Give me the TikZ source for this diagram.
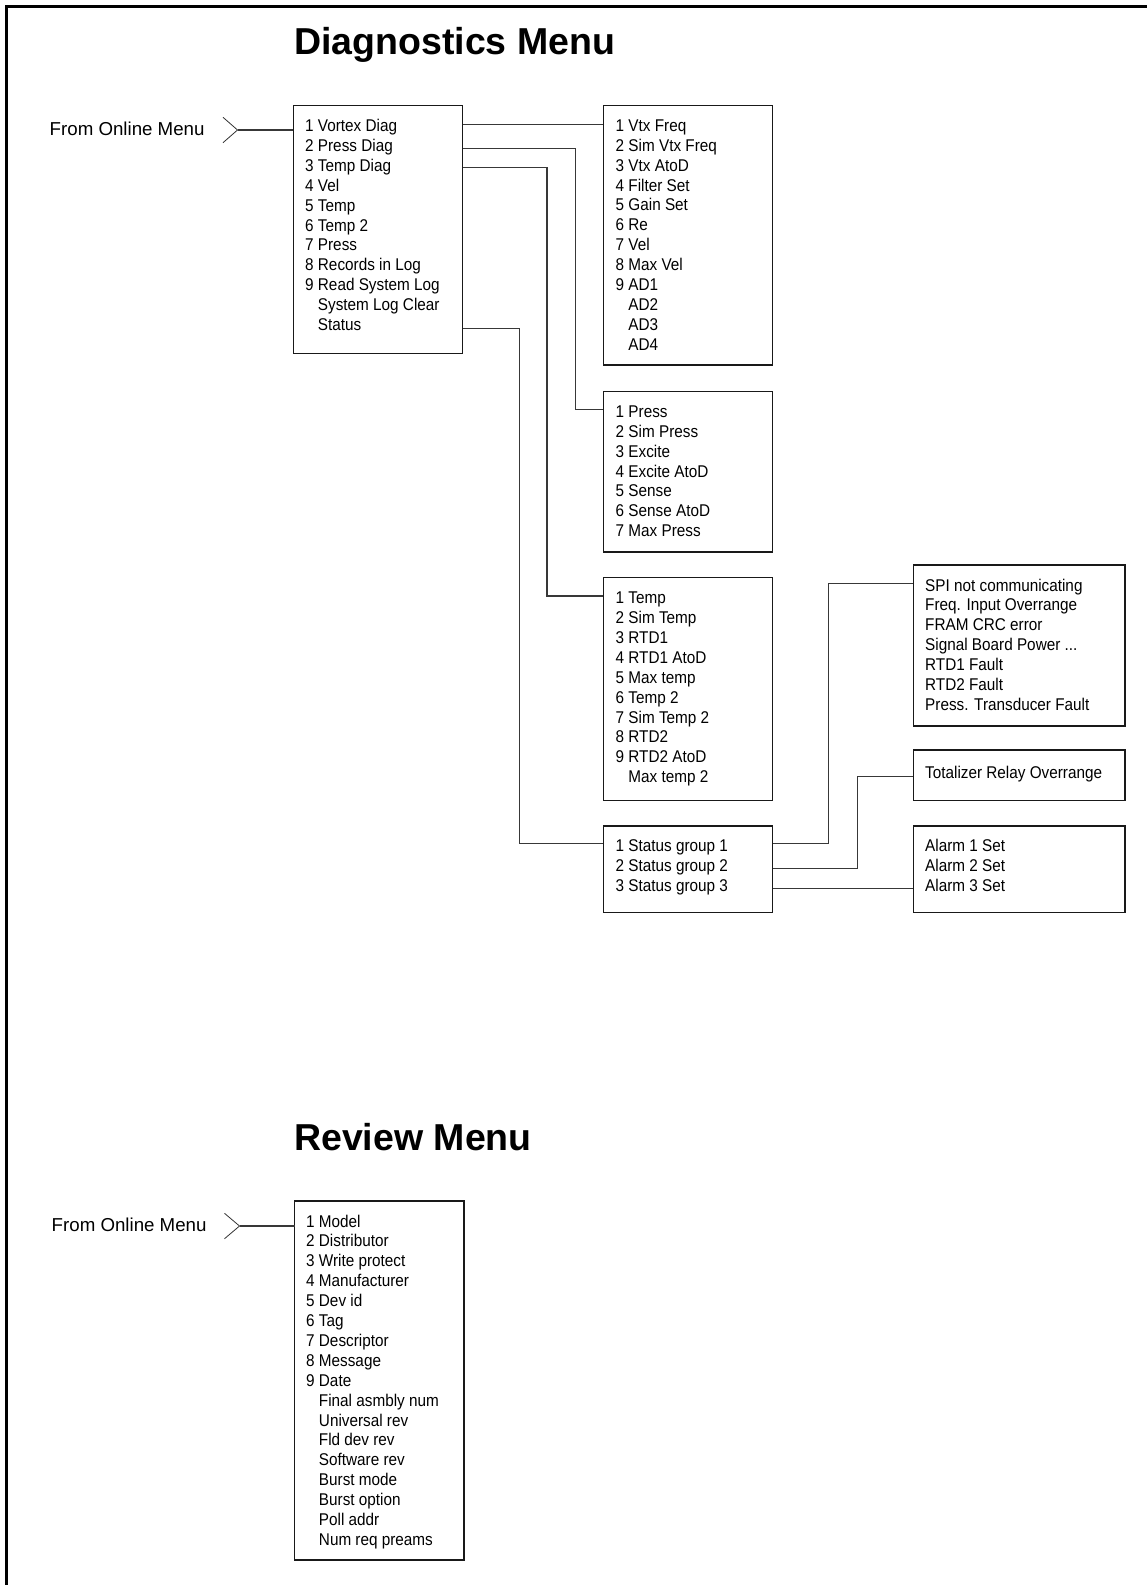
\documentclass[tikz,border=0pt]{standalone}
\usepackage{fontspec}
\setmainfont{Liberation Sans}
\newfontfamily\itemfont[FakeStretch=0.9]{Liberation Sans}
\newcommand\ind{\phantom{9\ }}
\newcommand\tdots{...}
\newcommand\menuitems[5]{%
  \foreach \t [count=\i] in {#5} {\node[itm] (#1-\i) at (#2, {#3+#4*(\i-1)}) {\t};}}
\begin{document}
\begin{tikzpicture}[x=1pt,y=-1pt,
  frame/.style={line width=3pt},
  box/.style={draw=black!90, line width=1.4pt, anchor=north west, inner sep=0pt, outer sep=0pt},
  itm/.style={font=\itemfont\fontsize{17}{20}\selectfont, anchor=base west, inner sep=0pt},
  ttl/.style={font=\bfseries\fontsize{37.5}{40}\selectfont, anchor=base west, inner sep=0pt},
  frm/.style={font=\fontsize{18.7}{22}\selectfont, anchor=base west, inner sep=0pt},
  conn/.style={draw=black!78, line width=1.3pt},
  chev/.style={draw=black!80, line width=0.8pt},
]
\useasboundingbox (0,0) rectangle (1147,1585);
\fill[white] (-20,-20) rectangle (1167,1605);
% frame
\draw[frame] (6.5,1600) -- (6.5,6.5) -- (1160,6.5);

% titles
\node[ttl] (t1) at (294,54) {Diagnostics Menu};
\node[ttl] (t2) at (294,1150) {Review Menu};

% From labels
\node[frm] (from1) at (49.5,135.5) {From Online Menu};
\node[frm] (from2) at (51.5,1231) {From Online Menu};

% boxes
\node[box, minimum width=169.4pt, minimum height=248.2pt] (dmain) at (293.3,105.3) {};
\node[box, minimum width=169.4pt, minimum height=259.7pt] (vtx) at (603.3,105.3) {};
\node[box, minimum width=169.4pt, minimum height=160.5pt] (press) at (603.3,391.5) {};
\node[box, minimum width=169.4pt, minimum height=223pt] (temp) at (603.3,577.5) {};
\node[box, minimum width=169.4pt, minimum height=86.7pt] (stat) at (603.3,826) {};
\node[box, minimum width=211.7pt, minimum height=161pt] (spi) at (913.3,565) {};
\node[box, minimum width=211.7pt, minimum height=50.5pt] (tot) at (913.3,750) {};
\node[box, minimum width=211.7pt, minimum height=86.7pt] (alarm) at (913.3,826) {};
\node[box, minimum width=169.5pt, minimum height=359pt] (review) at (294.5,1201) {};

% items
\menuitems{dm}{305}{131.5}{19.9}{1 Vortex Diag, 2 Press Diag, 3 Temp Diag, 4 Vel, 5 Temp, 6 Temp 2, 7 Press, 8 Records in Log, 9 Read System Log, \ind System Log Clear, \ind Status}
\menuitems{vx}{615.5}{131.3}{19.9}{1 Vtx Freq, 2 Sim Vtx Freq, 3 Vtx AtoD, 4 Filter Set, 5 Gain Set, 6 Re, 7 Vel, 8 Max Vel, 9 AD1, \ind AD2, \ind AD3, \ind AD4}
\menuitems{pr}{615.5}{417.3}{19.9}{1 Press, 2 Sim Press, 3 Excite, 4 Excite AtoD, 5 Sense, 6 Sense AtoD, 7 Max Press}
\menuitems{tp}{615.5}{603.3}{19.95}{1 Temp, 2 Sim Temp, 3 RTD1, 4 RTD1 AtoD, 5 Max temp, 6 Temp 2, 7 Sim Temp 2, 8 RTD2, 9 RTD2 AtoD, \ind Max temp 2}
\menuitems{st}{615.5}{851.8}{20}{1 Status group 1, 2 Status group 2, 3 Status group 3}
\menuitems{sp}{925}{591}{19.88}{SPI not communicating, Freq. Input Overrange, FRAM CRC error, Signal Board Power \tdots, RTD1 Fault, RTD2 Fault, Press. Transducer Fault}
\menuitems{to}{925}{778.3}{20}{Totalizer Relay Overrange}
\menuitems{al}{925}{851.8}{20}{Alarm 1 Set, Alarm 2 Set, Alarm 3 Set}
\menuitems{rv}{306}{1227}{19.9}{1 Model, 2 Distributor, 3 Write protect, 4 Manufacturer, 5 Dev id, 6 Tag, 7 Descriptor, 8 Message, 9 Date, \ind Final asmbly num, \ind Universal rev, \ind Fld dev rev, \ind Software rev, \ind Burst mode, \ind Burst option, \ind Poll addr, \ind Num req preams}

% chevrons and entry lines
\coordinate (tip1) at (237.5,130);
\coordinate (tip2) at (239.5,1226);
\draw[chev] (223,117.3) -- (tip1) -- (223,142.7);
\draw[chev] (224.5,1213.3) -- (tip2) -- (224.5,1238.7);
\draw[conn] (tip1) -- (dmain.west |- tip1);
\draw[conn] (tip2) -- (review.west |- tip2);

% connectors from main diag menu
\draw[conn] (dmain.east |- 0,124.5) -- (vtx.west |- 0,124.5);
\draw[conn] (dmain.east |- 0,148.5) -- (575.5,148.5) |- (press.west |- 0,409.3);
\draw[conn] (dmain.east |- 0,167.5) -- (547,167.5) |- (temp.west |- 0,596);
\draw[conn] (dmain.east |- 0,328.5) -- (519.2,328.5) |- (stat.west |- 0,843.5);

% connectors from status groups
\draw[conn] (stat.east |- 0,843.5) -| (828.7,583.3) -- (spi.west |- 0,583.3);
\draw[conn] (stat.east |- 0,868.3) -| (857.3,776.7) -- (tot.west |- 0,776.7);
\draw[conn] (stat.east |- 0,888.3) -- (alarm.west |- 0,888.3);
\end{tikzpicture}
\end{document}
